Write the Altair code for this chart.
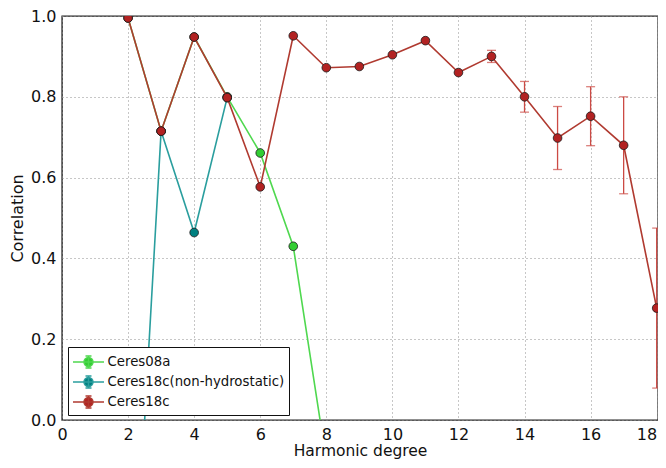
import altair as alt
import pandas as pd

# ---- data ----
series_names = ["Ceres08a", "Ceres18c(non-hydrostatic)", "Ceres18c"]
line_colors = ["#4fd84f", "#2a9e9e", "#b03a30"]
marker_colors = ["#32cd32", "#008080", "#b22222"]

degrees_green = [2, 3, 4, 5, 6, 7, 8]
corr_green = [0.995, 0.715, 0.948, 0.800, 0.661, 0.430, -0.10]

degrees_teal = [2, 3, 4, 5]
corr_teal = [-0.72, 0.715, 0.464, 0.798]

degrees_red = [2, 3, 4, 5, 6, 7, 8, 9, 10, 11, 12, 13, 14, 15, 16, 17, 18]
corr_red = [0.995, 0.715, 0.948, 0.798, 0.577, 0.951, 0.872, 0.875, 0.904,
            0.939, 0.860, 0.900, 0.800, 0.698, 0.752, 0.680, 0.277]
err_red = [0, 0, 0, 0, 0, 0, 0, 0, 0, 0, 0, 0.015, 0.038, 0.078, 0.073, 0.120, 0.198]

x_ticks = [0, 2, 4, 6, 8, 10, 12, 14, 16, 18]
y_ticks = [0.0, 0.2, 0.4, 0.6, 0.8, 1.0]

frames = []
for name, xs, ys, es in [
    (series_names[0], degrees_green, corr_green, [0] * len(degrees_green)),
    (series_names[1], degrees_teal, corr_teal, [0] * len(degrees_teal)),
    (series_names[2], degrees_red, corr_red, err_red),
]:
    frames.append(pd.DataFrame({"series": name, "degree": xs, "corr": ys, "err": es}))
df = pd.concat(frames, ignore_index=True)
df["lo"] = df["corr"] - df["err"]
df["hi"] = df["corr"] + df["err"]

FONT = "DejaVu Sans"
legend_path = ("M-1.55,0L1.55,0"
               "M-0.45,0A0.45,0.45 0 1,1 0.45,0A0.45,0.45 0 1,1 -0.45,0Z"
               "M0,-0.6L0,0.6M-0.3,-0.6L0.3,-0.6M-0.3,0.6L0.3,0.6")

legend = alt.Legend(
    title=None, orient="none", legendX=6, legendY=331,
    symbolType=legend_path, symbolSize=400, symbolStrokeWidth=1.5,
    symbolOffset=5.5, labelOffset=8, labelFontSize=13.3, labelFont=FONT,
    labelColor="#111", labelLimit=400, padding=4, rowPadding=0,
    strokeColor="#111", fillColor="white", cornerRadius=0, symbolOpacity=1,
)

x_enc = alt.X("degree:Q", scale=alt.Scale(domain=[0, 18.04], nice=False, zero=False),
              axis=alt.Axis(values=x_ticks, title="Harmonic degree", format="d",
                            labelFlush=False,
                            labelAlign={"condition": {"test": "datum.value >= 18", "value": "right"},
                                        "value": "center"},
                            labelPadding=6, titleFontSize=15.5,
                            titleBaseline="alphabetic", titleY=35.8))
y_enc = alt.Y("corr:Q", scale=alt.Scale(domain=[0, 1], nice=False),
              axis=alt.Axis(values=y_ticks, title="Correlation", format=".1f",
                            labelPadding=6, titlePadding=5))
stroke_enc = alt.Stroke("series:N", scale=alt.Scale(domain=series_names, range=line_colors),
                        legend=legend)
fill_enc = alt.Fill("series:N", scale=alt.Scale(domain=series_names, range=marker_colors),
                    legend=legend)

base = alt.Chart(df)
layers = []
for name in series_names:
    sub = base.transform_filter(alt.datum.series == name)
    if name == "Ceres18c":
        eb = sub.transform_filter(alt.datum.err > 0)
        layers.append(eb.mark_rule(color="#cc4a44", strokeWidth=1.3).encode(
            x="degree:Q", y="lo:Q", y2="hi:Q"))
        layers.append(eb.mark_tick(color="#cc4a44", orient="horizontal", size=9,
                                   thickness=1.3).encode(x="degree:Q", y="lo:Q"))
        layers.append(eb.mark_tick(color="#cc4a44", orient="horizontal", size=9,
                                   thickness=1.3).encode(x="degree:Q", y="hi:Q"))
    layers.append(sub.mark_line(strokeWidth=1.6, clip=True).encode(
        x=x_enc, y=y_enc, stroke=stroke_enc))
    pts = sub.transform_filter(alt.datum["corr"] >= 0)
    layers.append(pts.transform_filter(alt.datum.degree < 18).mark_point(
        filled=True, size=75, opacity=1, stroke="#1a1a1a", strokeWidth=0.8, clip=True).encode(
        x="degree:Q", y="corr:Q", fill=fill_enc))
    layers.append(pts.transform_filter(alt.datum.degree >= 18).mark_point(
        filled=True, size=75, opacity=1, stroke="#1a1a1a", strokeWidth=0.8).encode(
        x="degree:Q", y="corr:Q", fill=fill_enc))

chart = alt.layer(*layers).properties(
    width=596, height=404,
    autosize=alt.AutoSizeParams(type="none"),
    padding={"left": 54, "top": 8, "right": 0, "bottom": 40},
).configure_view(
    stroke="#222", strokeWidth=1.4
).configure_axis(
    domain=False, tickSize=0, grid=True, gridColor="#8f8f8f", gridDash=[1, 3],
    gridWidth=1, labelFont=FONT, labelFontSize=16, labelColor="#111",
    titleFont=FONT, titleFontSize=16, titleFontWeight="normal", titleColor="#111",
)

chart.save("out.html", embed_options={"renderer": "svg", "actions": False})
